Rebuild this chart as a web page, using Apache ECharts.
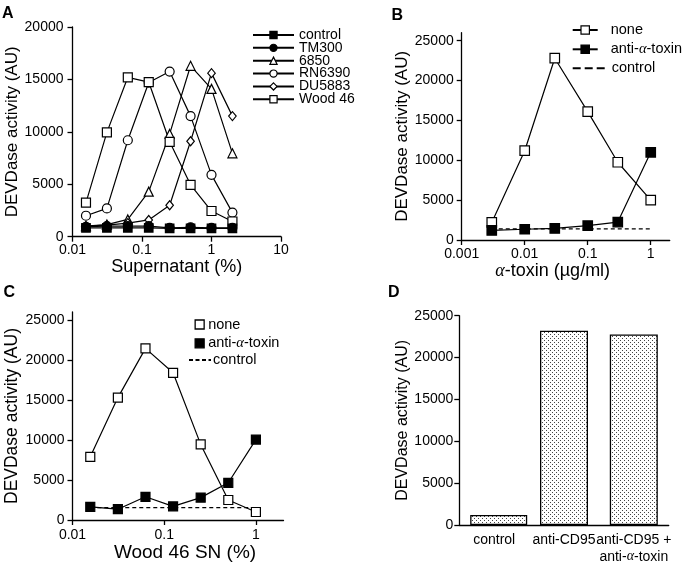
<!DOCTYPE html>
<html><head><meta charset="utf-8">
<script src="https://cdn.jsdelivr.net/npm/echarts@6/dist/echarts.min.js"></script>
<style>html,body{margin:0;padding:0;background:#fff}#c{width:684px;height:565px}</style>
</head><body><div id="c"></div>
<script>
// ---------- Panel A ----------
const xA = [0.015625, 0.03125, 0.0625, 0.125, 0.25, 0.5, 1, 2];
const controlA = [850, 850, 850, 850, 800, 800, 800, 800];
const tm300A = [950, 1000, 1000, 1000, 850, 900, 850, 850];
const s6850A = [1000, 1150, 1650, 4300, 9800, 16300, 14100, 7950];
const rn6390A = [2000, 2700, 9200, 14700, 15750, 11500, 5900, 2300];
const du5883A = [1000, 1100, 1300, 1600, 3000, 9100, 15600, 11500];
const wood46A = [3250, 9950, 15200, 14750, 9050, 4950, 2450, 1450];
const xTicksA = [0.01, 0.1, 1, 10];
// ---------- Panel B ----------
const xB = [0.003, 0.01, 0.03, 0.1, 0.3, 1];
const noneB = [2200, 11200, 22800, 16100, 9750, 5000];
const antiB = [1200, 1350, 1450, 1800, 2250, 11000];
const ctrlXB = [0.003, 1];
const ctrlB = [1400, 1400];
const xTicksB = [0.001, 0.01, 0.1, 1];
// ---------- Panel C ----------
const xC = [0.015625, 0.03125, 0.0625, 0.125, 0.25, 0.5, 1];
const noneC = [7900, 15300, 21450, 18400, 9450, 2500, 1000];
const antiC = [1650, 1350, 2900, 1700, 2800, 4650, 10050];
const ctrlXC = [0.015625, 1];
const ctrlC = [1550, 1550];
const xTicksC = [0.01, 0.1, 1];
// ---------- Panel D ----------
const catsD = ['control', 'anti-CD95', 'anti-CD95 +\nanti-{a|α}-toxin'];
const barD = [1200, 23200, 22750];
// ---------- shared ----------
const yTicks20 = [0, 5000, 10000, 15000, 20000];
const yTicks25 = [0, 5000, 10000, 15000, 20000, 25000];

const FF = '"Liberation Sans", Arial, Helvetica, sans-serif';
const alphaRich = { a: { fontFamily: '"Liberation Serif", "DejaVu Serif", serif', fontStyle: 'italic', color: '#000' } };
const pairs = (xs, ys) => xs.map((x, i) => [x, ys[i]]);
const stripName = n => n.split('|')[0].replace('α', '{a|α}');
const plainNum = v => String(v);

const chart = echarts.init(document.getElementById('c'), null, { renderer: 'canvas' });

// dot pattern for bars
const pat = document.createElement('canvas');
pat.width = 4; pat.height = 4;
const pc = pat.getContext('2d');
pc.fillStyle = '#fff'; pc.fillRect(0, 0, 4, 4);
pc.fillStyle = '#444'; pc.fillRect(0, 0, 1, 1); pc.fillRect(2, 2, 1, 1);

const axisLineS = { show: true, onZero: false, lineStyle: { color: '#000', width: 1.3 } };
const tickS = { show: true, inside: false, length: 5, lineStyle: { color: '#000', width: 1.3 } };
const hiddenSym = { color: 'rgba(0,0,0,0)', borderColor: 'rgba(0,0,0,0)', borderWidth: 0 };
const hollow = { color: '#fff', borderColor: '#000', borderWidth: 1.2 };
const filled = { color: '#000', borderColor: '#000', borderWidth: 1.2 };

function logX(gi, min, max, ticks, name, nameSize, nameGap, namePad, labelMargin) {
  return {
    type: 'log', logBase: 10, gridIndex: gi, min: min, max: max,
    axisLine: axisLineS, axisTick: Object.assign({ customValues: ticks }, tickS),
    axisLabel: { customValues: ticks, margin: labelMargin, color: '#000', fontSize: 14, fontFamily: FF, formatter: plainNum },
    minorTick: { show: false }, splitLine: { show: false },
    name: name, nameLocation: 'middle', nameGap: nameGap,
    nameTextStyle: { fontSize: nameSize, fontFamily: FF, color: '#000', padding: namePad, rich: { a: Object.assign({ fontSize: nameSize }, alphaRich.a) } }
  };
}
function valY(gi, max, ticks, nameSize, nameGap, namePad, labelMargin) {
  return {
    type: 'value', gridIndex: gi, min: 0, max: max,
    axisLine: axisLineS, axisTick: Object.assign({ customValues: ticks }, tickS),
    axisLabel: { customValues: ticks, margin: labelMargin, color: '#000', fontSize: 14, fontFamily: FF, formatter: plainNum },
    splitLine: { show: false },
    name: 'DEVDase activity (AU)', nameLocation: 'middle', nameGap: nameGap,
    nameTextStyle: { fontSize: nameSize, fontFamily: FF, color: '#000', padding: namePad }
  };
}
function lineS(name, xi, xs, ys, symbol, size, fill, extra) {
  return Object.assign({
    type: 'line', name: name, xAxisIndex: xi, yAxisIndex: xi,
    data: pairs(xs, ys), symbol: symbol, symbolSize: size, showSymbol: true,
    lineStyle: { color: '#000', width: 1.2 },
    itemStyle: { color: fill, borderColor: '#000', borderWidth: 1.2 },
    emphasis: { disabled: true }, animation: false, z: 2
  }, extra || {});
}

const option = {
  animation: false,
  backgroundColor: '#fff',
  textStyle: { fontFamily: FF },
  title: [
    { text: 'A', left: 2, top: 6, padding: 0, textStyle: { fontSize: 16, fontWeight: 'bold', fontFamily: FF, color: '#000' } },
    { text: 'B', left: 391.5, top: 7.5, padding: 0, textStyle: { fontSize: 16, fontWeight: 'bold', fontFamily: FF, color: '#000' } },
    { text: 'C', left: 3.5, top: 285, padding: 0, textStyle: { fontSize: 16, fontWeight: 'bold', fontFamily: FF, color: '#000' } },
    { text: 'D', left: 388, top: 285, padding: 0, textStyle: { fontSize: 16, fontWeight: 'bold', fontFamily: FF, color: '#000' } }
  ],
  grid: [
    { left: 72.5, top: 27, width: 208.5, height: 209.7 },
    { left: 461.7, top: 32.7, width: 208, height: 207.3 },
    { left: 72.5, top: 312, width: 211, height: 208 },
    { left: 459.3, top: 315.7, width: 209.4, height: 209.3 }
  ],
  xAxis: [
    logX(0, 0.01, 10, xTicksA, 'Supernatant (%)', 18, 18, [0, 0, 0, 0], 6),
    logX(1, 0.001, 2, xTicksB, '{a|α}-toxin (µg/ml)', 18, 17, [0, 26, 0, 0], 7),
    logX(2, 0.01, 2, xTicksC, 'Wood 46 SN (%)', 19, 23, [0, 0, 0, 14], 8),
    {
      type: 'category', gridIndex: 3, data: catsD, boundaryGap: true,
      axisLine: axisLineS, axisTick: { show: false },
      axisLabel: { margin: 7, color: '#000', fontSize: 14, lineHeight: 16.5, fontFamily: FF, interval: 0, rich: { a: Object.assign({ fontSize: 14, lineHeight: 16.5 }, alphaRich.a) } },
      splitLine: { show: false }
    }
  ],
  yAxis: [
    valY(0, 20000, yTicks20, 17, 51, [0, 0, 0, 0], 9),
    valY(1, 26000, yTicks25, 17, 40, [0, 0, 0, 0], 8),
    valY(2, 26000, yTicks25, 17.5, 51, [0, 0, 0, 0], 8),
    valY(3, 25000, yTicks25, 16, 42, [0, 0, 0, 0], 6)
  ],
  legend: [
    {
      left: 252, top: 28, padding: 0, orient: 'vertical', itemWidth: 41, itemHeight: 9, itemGap: -1.14, selectedMode: false,
      data: [
        { name: 'control', itemStyle: filled },
        { name: 'TM300', itemStyle: filled },
        { name: '6850', itemStyle: hollow },
        { name: 'RN6390', itemStyle: hollow },
        { name: 'DU5883', itemStyle: hollow },
        { name: 'Wood 46', itemStyle: hollow }
      ],
      textStyle: { fontSize: 14, fontFamily: FF, color: '#000' }
    },
    {
      left: 571.7, top: 22.5, padding: 0, orient: 'vertical', itemWidth: 25, itemHeight: 10.5, itemGap: 4.3, selectedMode: false,
      data: [
        { name: 'none|B', itemStyle: hollow },
        { name: 'anti-α-toxin|B', itemStyle: filled }
      ],
      formatter: stripName,
      textStyle: { fontSize: 14.5, lineHeight: 15, fontFamily: FF, color: '#000', padding: [0, 0, 0, 8], rich: { a: Object.assign({ fontSize: 14.5 }, alphaRich.a) } }
    },
    {
      left: 571.7, top: 60.8, padding: 0, orient: 'vertical', itemWidth: 34, itemHeight: 10, itemGap: 0, selectedMode: false,
      data: [{ name: 'control|B', lineStyle: { type: [8, 4] }, itemStyle: hiddenSym }], formatter: stripName,
      textStyle: { fontSize: 14.5, lineHeight: 15, fontFamily: FF, color: '#000' }
    },
    {
      left: 194.5, top: 317, padding: 0, orient: 'vertical', itemWidth: 9, itemHeight: 9, itemGap: 3.8, selectedMode: false,
      data: [
        { name: 'none|C', icon: 'rect', itemStyle: { color: '#fff', borderColor: '#000', borderWidth: 1.3 } },
        { name: 'anti-α-toxin|C', icon: 'rect', itemStyle: { color: '#000', borderColor: '#000', borderWidth: 1.3 } }
      ],
      formatter: stripName,
      textStyle: { fontSize: 14.5, lineHeight: 15, fontFamily: FF, color: '#000', padding: [0, 0, 0, -1], rich: { a: Object.assign({ fontSize: 14.5 }, alphaRich.a) } }
    },
    {
      left: 188, top: 352.5, padding: 0, orient: 'vertical', itemWidth: 22, itemHeight: 10, itemGap: 0, selectedMode: false,
      data: [{ name: 'control|C', lineStyle: { type: [4, 2.5] }, itemStyle: hiddenSym }], formatter: stripName,
      textStyle: { fontSize: 14.5, lineHeight: 15, fontFamily: FF, color: '#000', padding: [0, 0, 0, -3] }
    }
  ],
  series: [
    // Panel A
    lineS('6850', 0, xA, s6850A, 'triangle', 9, '#fff'),
    lineS('DU5883', 0, xA, du5883A, 'diamond', [7.5, 9], '#fff'),
    lineS('RN6390', 0, xA, rn6390A, 'circle', 9, '#fff'),
    lineS('Wood 46', 0, xA, wood46A, 'rect', 9, '#fff'),
    lineS('TM300', 0, xA, tm300A, 'circle', 9, '#000'),
    lineS('control', 0, xA, controlA, 'rect', 8.5, '#000'),
    // Panel B
    lineS('control|B', 1, ctrlXB, ctrlB, 'none', 0, '#000', { lineStyle: { color: '#000', width: 1.1, type: [4, 3] }, z: 1 }),
    lineS('none|B', 1, xB, noneB, 'rect', 9.5, '#fff'),
    lineS('anti-α-toxin|B', 1, xB, antiB, 'rect', 9.5, '#000'),
    // Panel C
    lineS('control|C', 2, ctrlXC, ctrlC, 'none', 0, '#000', { lineStyle: { color: '#000', width: 1.1, type: [4, 3] }, z: 1 }),
    lineS('none|C', 2, xC, noneC, 'rect', 9, '#fff'),
    lineS('anti-α-toxin|C', 2, xC, antiC, 'rect', 9, '#000'),
    // Panel D
    {
      type: 'bar', name: 'barD1', xAxisIndex: 3, yAxisIndex: 3, barWidth: 57, barGap: '-100%',
      data: barD.map((v, i) => (i === 0 ? v : '-')),
      itemStyle: { color: { image: pat, repeat: 'repeat' }, borderColor: '#000', borderWidth: 1.3 },
      emphasis: { disabled: true }
    },
    {
      type: 'bar', name: 'barD2', xAxisIndex: 3, yAxisIndex: 3, barWidth: 48, barGap: '-100%',
      data: barD.map((v, i) => (i === 0 ? '-' : v)),
      itemStyle: { color: { image: pat, repeat: 'repeat' }, borderColor: '#000', borderWidth: 1.3 },
      emphasis: { disabled: true }
    }
  ]
};
chart.setOption(option);
</script>
</body></html>
